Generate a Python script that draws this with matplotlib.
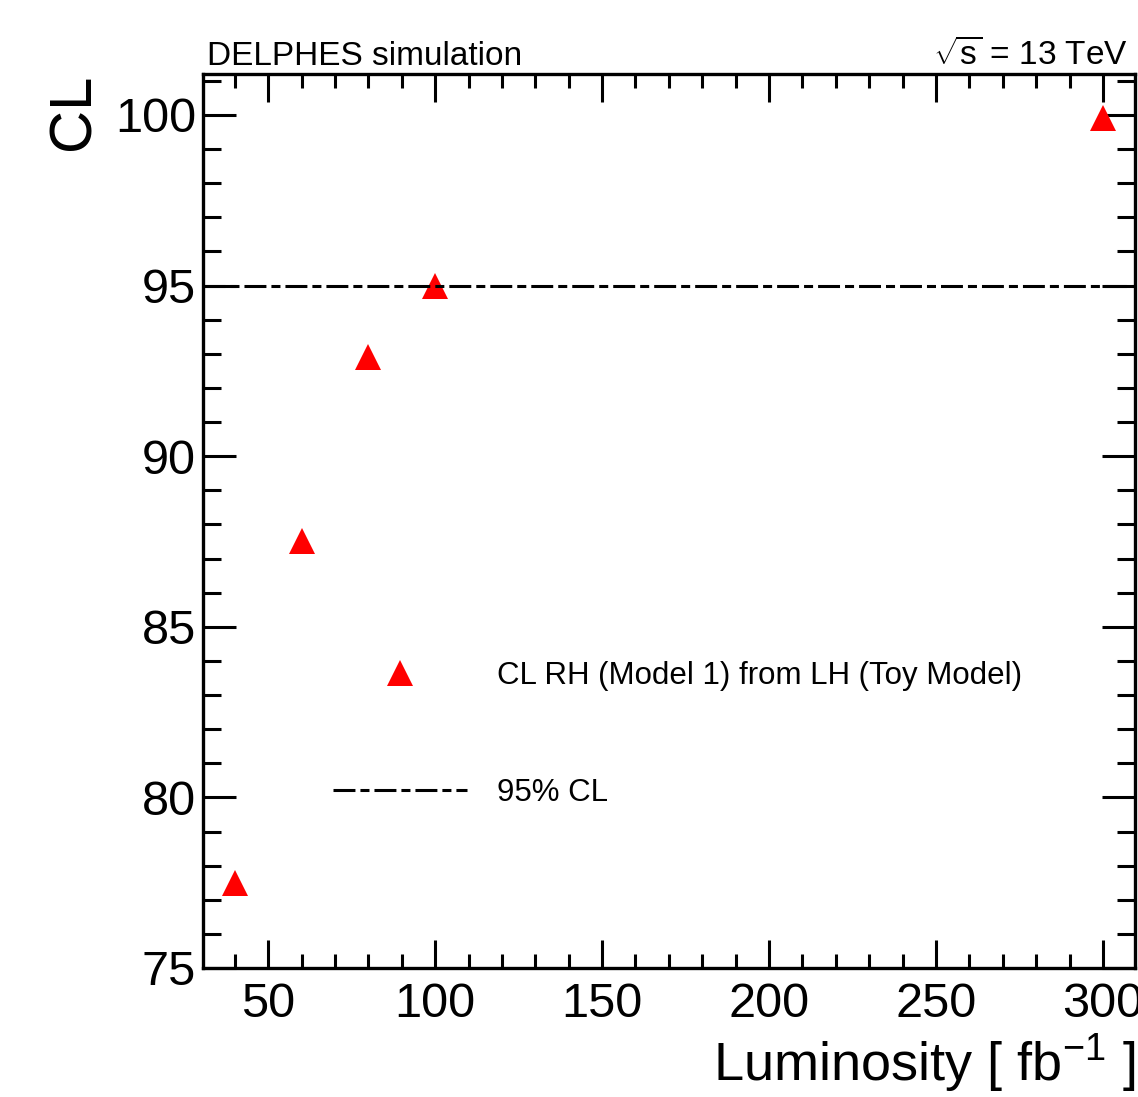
import matplotlib
matplotlib.use("Agg")
import matplotlib.pyplot as plt
from matplotlib.ticker import MultipleLocator

plt.rcParams['font.family'] = ['Liberation Sans', 'DejaVu Sans']
plt.rcParams['mathtext.fontset'] = 'custom'
plt.rcParams['mathtext.rm'] = 'Liberation Sans'
plt.rcParams['mathtext.it'] = 'Liberation Sans'
plt.rcParams['lines.scale_dashes'] = False

# data
lumi = [40, 60, 80, 100, 300]
cl = [77.5, 87.5, 92.9, 95.0, 99.9]
cl_limit = 95
label_points = "CL RH (Model 1) from LH (Toy Model)"
label_limit = "95% CL"

fig = plt.figure(figsize=(11.38, 10.97), dpi=100)
ax = fig.add_axes([0.1784, 0.1176, 0.819, 0.8149])

pts, = ax.plot(lumi, cl, linestyle='none', marker='^', color='#ff0000',
               markersize=19, markeredgewidth=0, label=label_points)
hl = ax.axhline(cl_limit, color='black', linewidth=2.2,
                dashes=(15.8, 3.6, 6.5, 3.6), label=label_limit)

ax.set_xlim(30.5, 309.6)
ax.set_ylim(75, 101.2)

ax.xaxis.set_major_locator(MultipleLocator(50))
ax.xaxis.set_minor_locator(MultipleLocator(10))
ax.yaxis.set_major_locator(MultipleLocator(5))
ax.yaxis.set_minor_locator(MultipleLocator(1))

ax.tick_params(which='both', direction='in', top=True, right=True, width=2.2)
ax.tick_params(axis='x', which='major', length=20, labelsize=35, pad=10)
ax.tick_params(axis='x', which='minor', length=10)
ax.tick_params(axis='y', which='major', length=24, labelsize=35, pad=5)
ax.tick_params(axis='y', which='minor', length=13)
for s in ax.spines.values():
    s.set_linewidth(2.4)

ax.set_xlabel(r"Luminosity [ fb$^{\mathregular{-1}}$ ]", fontsize=39, loc='right', labelpad=4)
ax.set_ylabel("CL", fontsize=43, loc='top', labelpad=10)

ax.text(0.004, 1.002, "DELPHES simulation", transform=ax.transAxes,
        fontsize=24, ha='left', va='bottom')
ax.text(0.992, 1.002, r"$\sqrt{\mathrm{s}}$ = 13 TeV", transform=ax.transAxes,
        fontsize=24, ha='right', va='bottom')

ax.legend(handles=[pts, hl], loc='center left', bbox_to_anchor=(0.1395, 0.2616),
          frameon=False, fontsize=22.5, handlelength=4.28, handletextpad=0.96,
          labelspacing=2.79, borderpad=0, borderaxespad=0)

fig.savefig("out.png", dpi=100)
